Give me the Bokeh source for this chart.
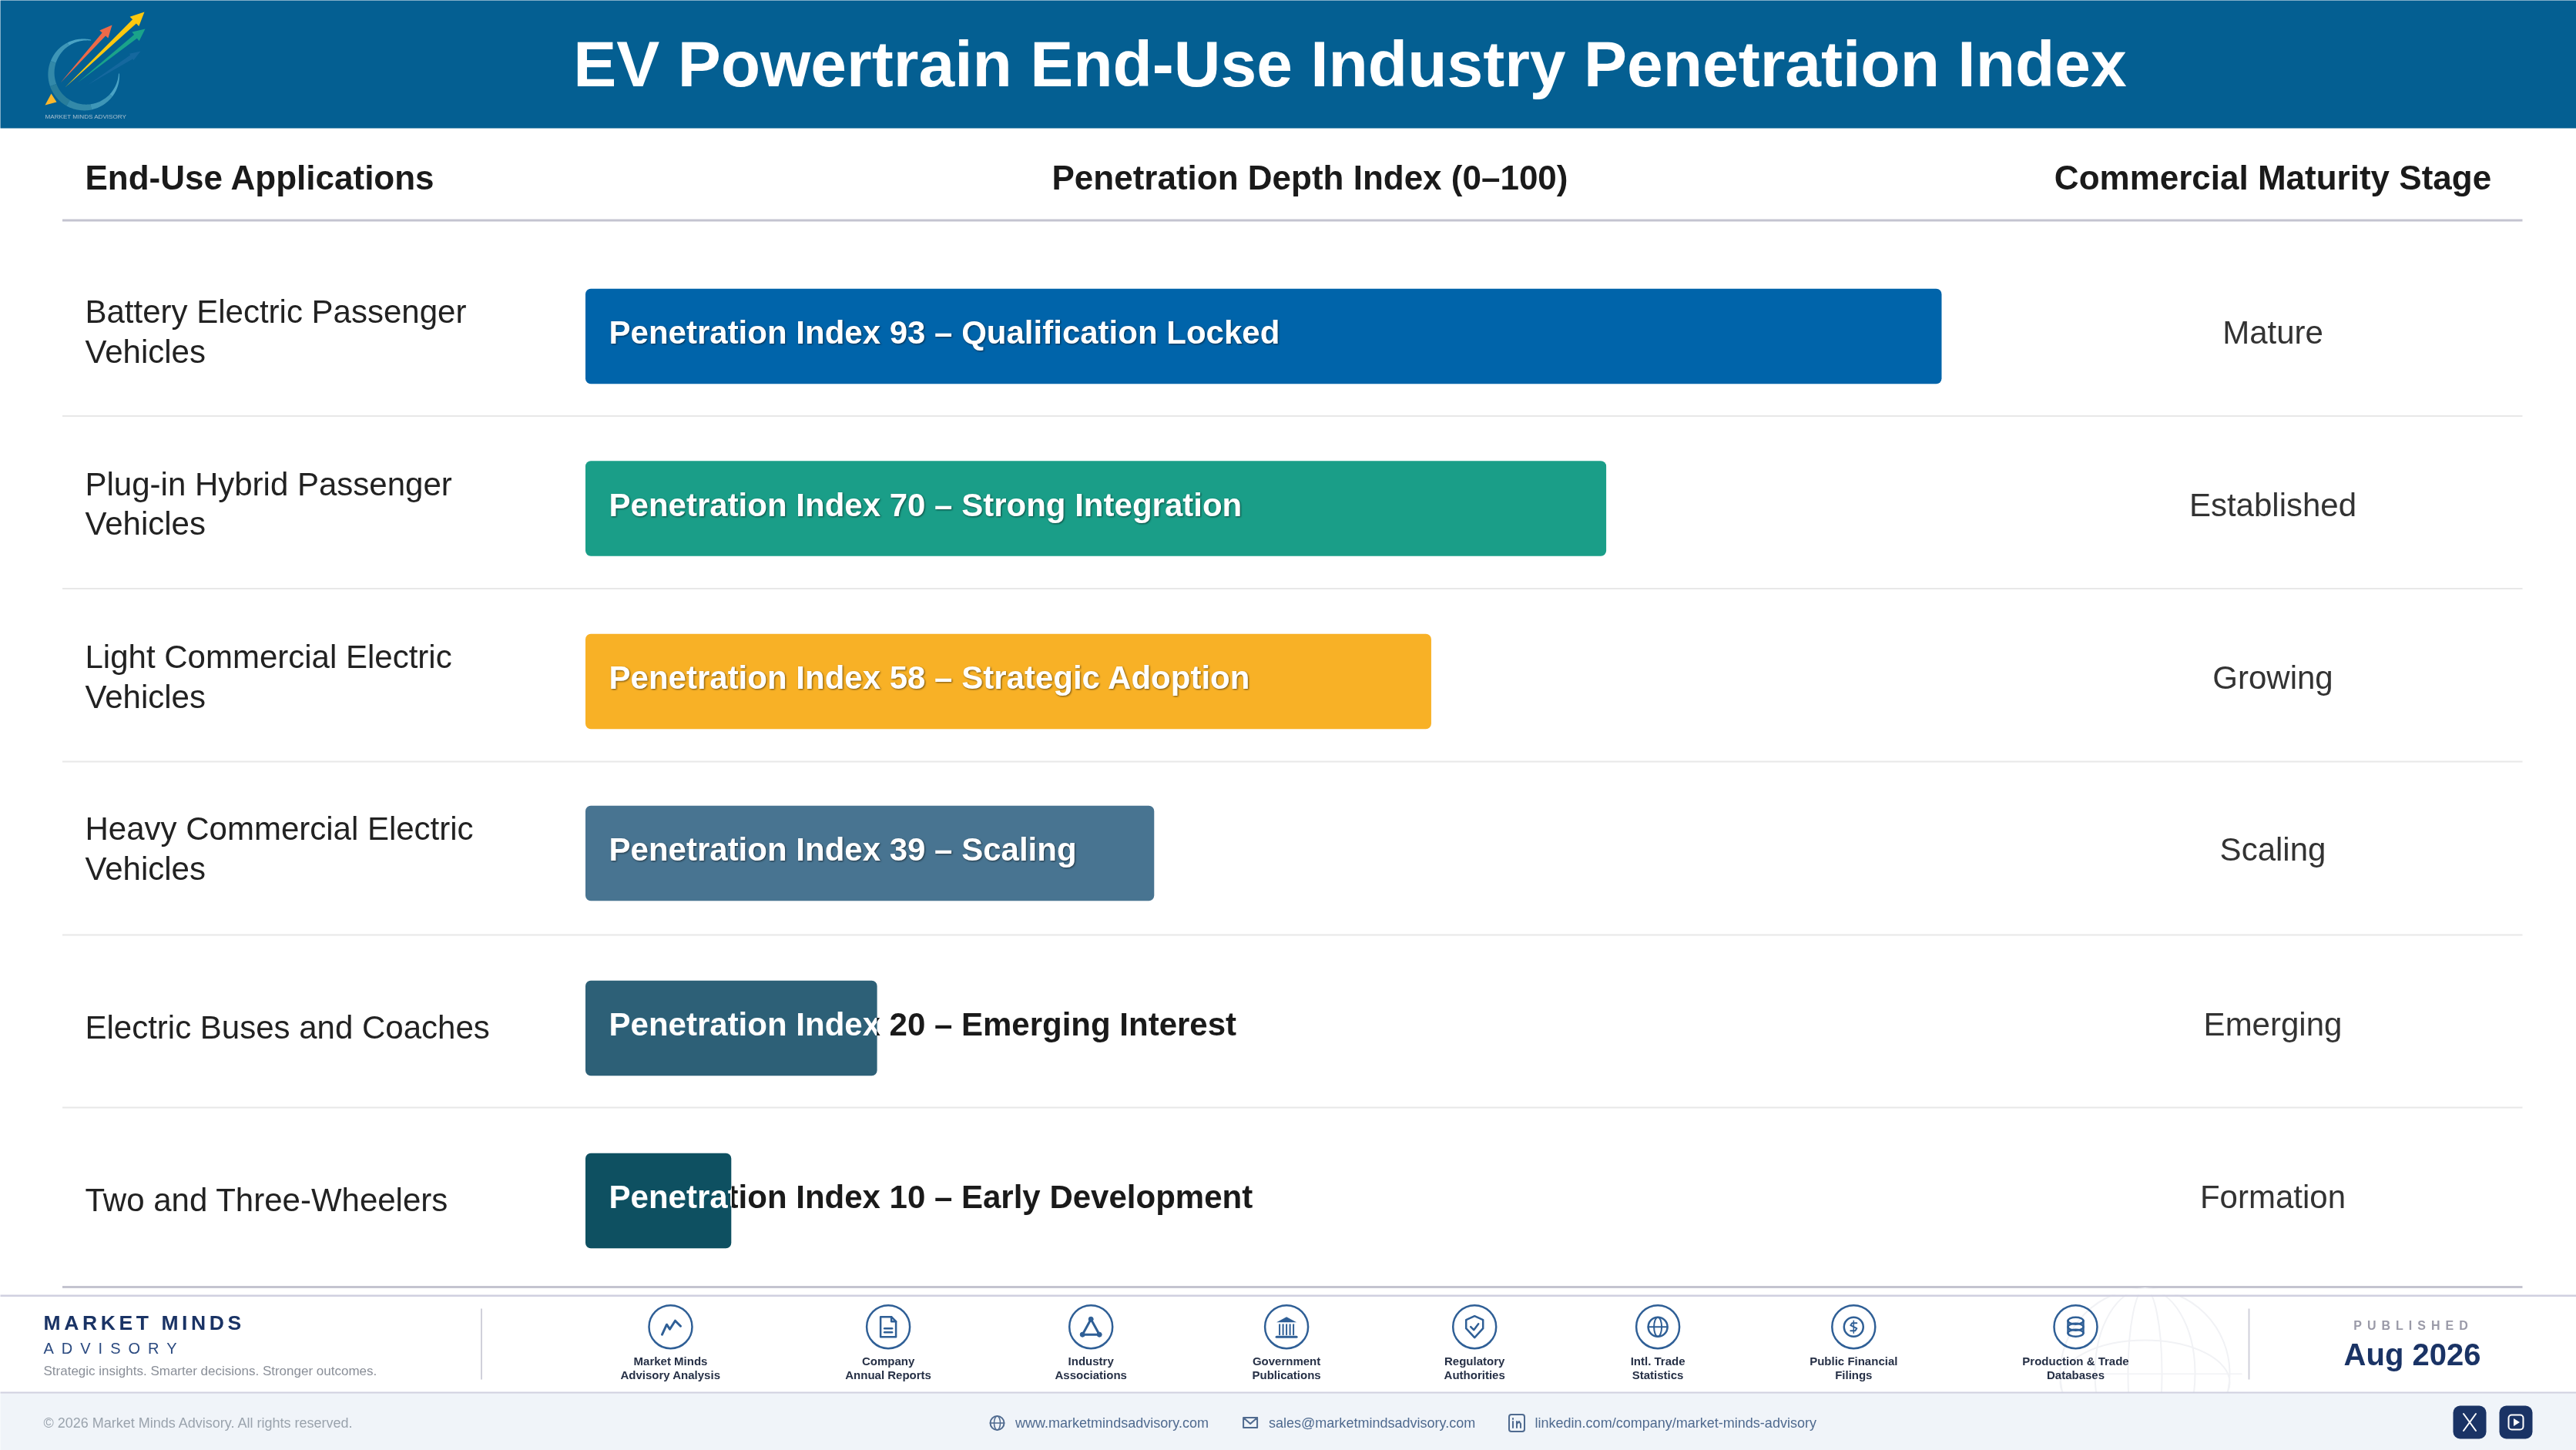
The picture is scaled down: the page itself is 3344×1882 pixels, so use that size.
import numpy as np
from bokeh.embed import file_html
from bokeh.resources import INLINE
from bokeh.plotting import figure
from bokeh.io import curdoc
from bokeh.models import Range1d, CustomJS
from bokeh.core.properties import value

# ---------- data ----------
APPLICATIONS = ["Battery Electric Passenger\nVehicles", "Plug-in Hybrid Passenger\nVehicles",
                "Light Commercial Electric\nVehicles", "Heavy Commercial Electric\nVehicles",
                "Electric Buses and Coaches", "Two and Three-Wheelers"]
INDEX_VALUES = [93, 70, 58, 39, 20, 10]
QUALIFIERS = ["Qualification Locked", "Strong Integration", "Strategic Adoption", "Scaling",
              "Emerging Interest", "Early Development"]
STAGES = ["Mature", "Established", "Growing", "Scaling", "Emerging", "Formation"]
SOURCES = [("Market Minds", "Advisory Analysis"), ("Company", "Annual Reports"), ("Industry", "Associations"),
           ("Government", "Publications"), ("Regulatory", "Authorities"), ("Intl. Trade", "Statistics"),
           ("Public Financial", "Filings"), ("Production & Trade", "Databases")]

# ---------- style and layout ----------
BAR_COLORS = ["#0064AA", "#1A9E88", "#F8B126", "#487491", "#2D6077", "#0E5061"]
W, H = 3344, 1882
BAR_X0 = 759.5
PX_PER_UNIT = 18.93
ROW_Y = [436, 659.5, 884, 1107, 1334, 1558]
SEP_Y = [539.5, 763.5, 988, 1213, 1437]
SRC_X = [870, 1152.6, 1415.7, 1669.6, 1913.7, 2151.6, 2405.8, 2694]
FONT = "Liberation Sans"
NAVY = "#1A3365"
ICON = "#2F5F96"

p = figure(width=W, height=H, output_backend="svg", toolbar_location=None, min_border=0,
           x_range=Range1d(-BAR_X0 / PX_PER_UNIT, (W - BAR_X0) / PX_PER_UNIT), y_range=Range1d(H, 0),
           extra_x_ranges={"px": Range1d(0, W)}, outline_line_color=None, background_fill_color="white",
           border_fill_color="white")
p.axis.visible = False
p.grid.visible = False
p.xaxis.visible = False
p.styles = {"position": "fixed", "left": "0", "top": "0"}


def T(x, y, s, size, color, bold=False, align="left", lh=1.09):
    return p.text(x=[x], y=[y], text=[s], text_font=value(FONT), text_font_size=value(f"{size}px"),
                  text_color=color, text_font_style="bold" if bold else "normal", text_align=align,
                  text_baseline="middle", text_line_height=lh, x_range_name="px")


def rect(x0, y0, x1, y1, color, radius=0, alpha=1.0):
    return p.quad(left=[x0], right=[x1], top=[y0], bottom=[y1], fill_color=color, fill_alpha=alpha,
                  line_color=None, border_radius=radius, x_range_name="px")


def L(pts, color=ICON, w=2.5, cx=0, cy=0):
    a = np.array(pts, dtype=float)
    return p.line(a[:, 0] + cx, a[:, 1] + cy, line_color=color, line_width=w, x_range_name="px",
                  line_cap="round", line_join="round")


def poly(pts, color, alpha=1.0, cx=0, cy=0):
    a = np.array(pts, dtype=float)
    return p.patch(a[:, 0] + cx, a[:, 1] + cy, fill_color=color, fill_alpha=alpha, line_color=None, x_range_name="px")


def ell(cx, cy, w, h, color=ICON, lw=2.5, fill=None):
    return p.ellipse(x=[cx], y=[cy], width=[w], height=[h], line_color=color, line_width=lw,
                     fill_color=fill, fill_alpha=1 if fill else 0, x_range_name="px")


# ---------- header ----------
rect(-6, -6, W + 6, 166, "#045F92")
T(1752, 82, "EV Powertrain End-Use Industry Penetration Index", 84, "white", True, "center")

# logo
cx, cy, R = 110, 95, 44
angles = np.linspace(-80, -360, 141)
for i in range(0, 140, 20):
    t = angles[i:i + 21]
    frac = (-t - 80) / 280
    th = 8 * np.sin(np.pi * frac) + 1
    rad = np.radians(t)
    outer = np.c_[cx + (R + th / 2) * np.cos(rad), cy + (R + th / 2) * np.sin(rad)]
    inner = np.c_[cx + (R - th / 2) * np.cos(rad), cy + (R - th / 2) * np.sin(rad)]
    mix = abs(frac.mean() - 0.5) * 2
    col = "#%02x%02x%02x" % (int(40 + 40 * mix), int(125 + 45 * mix), int(155 + 50 * mix))
    poly(np.r_[outer, inner[::-1]], col)


def arrow(tail, tip, hl, hw, sw, color, alpha=1.0):
    a, b = np.array(tail, float), np.array(tip, float)
    d = (b - a) / np.linalg.norm(b - a)
    n = np.array([-d[1], d[0]])
    neck = b - d * hl
    poly([a, neck + n * sw / 2, neck + n * hw / 2, b, neck - n * hw / 2, neck - n * sw / 2], color, alpha)


arrow((78, 107), (145, 32), 16, 15, 6, "#EE6A48")
arrow((84, 113), (187, 15), 18, 17, 7, "#FDC80E")
arrow((100, 107), (188, 37), 16, 15, 6, "#1AA38A")
arrow((113, 110), (182, 66), 14, 10, 6, "#2A74AE", 0.45)
poly([(58, 136), (73, 132), (66, 121)], "#FBB72C")
T(58, 151, "MARKET MINDS ADVISORY", 8.1, "#A9C0CF")

# ---------- table head ----------
T(110, 230, "End-Use Applications", 44, "#1A1A1A", True)
T(1700, 230, "Penetration Depth Index (0–100)", 44, "#1A1A1A", True, "center")
T(2950, 230, "Commercial Maturity Stage", 44, "#1A1A1A", True, "center")
rect(80.5, 284, 3274, 287, "#C4C4D0")
for y in SEP_Y:
    rect(80.5, y - 1, 3274, y + 1, "#E8E8E8")
rect(80.5, 1668.5, 3274, 1671.5, "#C4C4D0")

# ---------- rows ----------
for i, (app, v, q, st) in enumerate(zip(APPLICATIONS, INDEX_VALUES, QUALIFIERS, STAGES)):
    yc = ROW_Y[i]
    label = f"Penetration Index {v} – {q}"
    T(110, yc - (6 if "\n" in app else 1), app, 42, "#222222")
    T(2950, yc - 5, st, 42, "#333333", False, "center")
    if i >= 4:
        T(790, yc - 5, label, 42.01, "#1A1A1A", True)   # dark copy, hidden under the bar
    p.hbar(y=[yc], left=[0], right=[v], height=[123.5], fill_color=BAR_COLORS[i], line_color=None, border_radius=7)
    size = {4: 42.03, 5: 42.04}.get(i, 42.02)
    T(790, yc - 5, label, size, "white", True)

# ---------- footer ----------
# watermark globe, trimmed by the footer rules
GLOBE = "#F1F2F5"
for w_, h_ in [(220, 220), (130, 220), (44, 220)]:
    ell(2784, 1782, w_, h_, GLOBE, 2)
ell(2784, 1782 + 12, 220, 110, GLOBE, 2)
rect(2660, 1782, 2910, 1783.5, GLOBE)
rect(2600, 1672, 2950, 1680, "white")
rect(-6, 1807, W + 6, H + 6, "#F0F4F9")
rect(-6, 1680, W + 6, 1682.5, "#D0D0E0")
rect(-6, 1806, W + 6, 1808, "#D0D0E0")

T(56, 1716.5, "MARKET MINDS", 26.5, NAVY, True)
T(56, 1749, "ADVISORY", 20, "#2B4A80")
T(56, 1779, "Strategic insights. Smarter decisions. Stronger outcomes.", 17, "#8A8F98")
rect(623.5, 1698, 625.5, 1790, "#D0D0DA")
rect(2918, 1698, 2920, 1790, "#D0D0DA")

for (l1, l2), x in zip(SOURCES, SRC_X):
    ell(x, 1721.7, 56, 56)
    T(x, 1766, l1, 15, "#263046", True, "center")
    T(x, 1784, l2, 15, "#263046", True, "center")

CY = 1721.7
# trend
L([(-11, 10), (-5, -3), (-1, 3), (6, -8), (13, -1)], w=3, cx=SRC_X[0], cy=CY)
# document
L([(-10, -13), (4, -13), (10, -7), (10, 13), (-10, 13), (-10, -13)], cx=SRC_X[1], cy=CY)
L([(4, -13), (4, -7), (10, -7)], cx=SRC_X[1], cy=CY)
L([(-5, 2), (5, 2)], cx=SRC_X[1], cy=CY)
L([(-5, 7), (5, 7)], cx=SRC_X[1], cy=CY)
# network triangle
L([(0, -10), (-11, 10), (11, 10), (0, -10)], w=3, cx=SRC_X[2], cy=CY)
for dx, dy in [(0, -10), (-11, 10), (11, 10)]:
    ell(SRC_X[2] + dx, CY + dy, 6, 6, ICON, 1, ICON)
# government building
poly([(-13, -6), (0, -13), (13, -6)], ICON, cx=SRC_X[3], cy=CY)
for dx in (-9, -4.5, 0, 4.5, 9):
    L([(dx, -3), (dx, 10)], w=2, cx=SRC_X[3], cy=CY)
L([(-13, 13), (13, 13)], w=3, cx=SRC_X[3], cy=CY)
# shield
L([(0, -14), (11, -9), (11, 2), (0, 14), (-11, 2), (-11, -9), (0, -14)], cx=SRC_X[4], cy=CY)
L([(-5, 0), (-1, 4), (5, -4)], cx=SRC_X[4], cy=CY)
# globe
ell(SRC_X[5], CY, 25, 25, ICON, 2.5)
ell(SRC_X[5], CY, 10, 25, ICON, 2)
L([(-12.5, 0), (12.5, 0)], w=2, cx=SRC_X[5], cy=CY)
# coin
ell(SRC_X[6], CY, 25, 25, ICON, 2.5)
L([(4, -5), (-2, -5), (-4, -2), (4, 2), (2, 5), (-4, 5)], w=2, cx=SRC_X[6], cy=CY)
L([(0, -8), (0, 8)], w=1.5, cx=SRC_X[6], cy=CY)
# database
for dy in (-8, 0, 8):
    ell(SRC_X[7], CY + dy, 20, 9, ICON, 2.5)
L([(-10, -8), (-10, 8)], cx=SRC_X[7], cy=CY)
L([(10, -8), (10, 8)], cx=SRC_X[7], cy=CY)

# published block
T(3101, 1720, "PUBLISHED", 16, "#9A9AA8", True, "center")
T(3131, 1757, "Aug 2026", 40, NAVY, True, "center")

# bottom strip
T(56, 1846, "© 2026 Market Minds Advisory. All rights reserved.", 18.01, "#9AA3AD")
LINK = "#4F6A8F"
T(1317.5, 1846, "www.marketmindsadvisory.com", 18.02, LINK)
T(1646.5, 1846, "sales@marketmindsadvisory.com", 18.02, LINK)
T(1992, 1846, "linkedin.com/company/market-minds-advisory", 18.02, LINK)
ell(1294, 1846.5, 18, 18, LINK, 2)
ell(1294, 1846.5, 8, 18, LINK, 1.5)
L([(-9, 0), (9, 0)], LINK, 1.5, 1294, 1846.5)
L([(-9, -7), (9, -7), (9, 6), (-9, 6), (-9, -7), (0, 1), (9, -7)], LINK, 2, 1622.6, 1846.5)
p.quad(left=[1958.5], right=[1978.5], top=[1835.5], bottom=[1857.5], fill_alpha=0, line_color=LINK, line_width=2,
       border_radius=3, x_range_name="px")
L([(-5, -2), (-5, 6)], LINK, 2, 1968.5, 1846.5)
L([(-5, -6), (-5, -5)], LINK, 2, 1968.5, 1846.5)
L([(0, 6), (0, -2)], LINK, 2, 1968.5, 1846.5)
L([(0, 1), (3, -2), (5, 1), (5, 6)], LINK, 2, 1968.5, 1846.5)

rect(3184, 1824, 3227, 1867, NAVY, 9)
rect(3244, 1824, 3287, 1867, NAVY, 9)
L([(-8, -11), (8, 11)], "white", 2, 3205.5, 1845.5)
L([(8, -11), (-8, 11)], "white", 2, 3205.5, 1845.5)
p.quad(left=[3256], right=[3275], top=[1836], bottom=[1855], fill_alpha=0, line_color="white", line_width=2,
       border_radius=4, x_range_name="px")
poly([(-3, -5), (5, 0), (-3, 5)], "white", cx=3265.5, cy=1845.5)

# CSS that Bokeh has no property for: letter spacing, clipping text at a bar's edge, text shadow
CSS = """
text[font-size="26.5px"]{letter-spacing:4.6px}
text[font-size="20px"]{letter-spacing:10px}
text[font-size="16px"]{letter-spacing:7px}
text[font-size="42.02px"]{filter:drop-shadow(1px 1px 1px rgba(0,0,0,.55))}
text[font-size="42.03px"]{clip-path:polygon(0 -40px,347.5px -40px,347.5px 100px,0 100px)}
text[font-size="42.04px"]{clip-path:polygon(0 -40px,159.5px -40px,159.5px 100px,0 100px)}
"""
JS = """
const css = args_css;
function walk(root){
  root.querySelectorAll('*').forEach(el => {
    if (el.shadowRoot) {
      if (!el.shadowRoot.querySelector('style[data-x]')) {
        const s = document.createElement('style'); s.setAttribute('data-x','1'); s.textContent = css;
        el.shadowRoot.appendChild(s);
      }
      walk(el.shadowRoot);
    }
  });
}
walk(document); setTimeout(()=>walk(document),100); setTimeout(()=>walk(document),500);
""".replace("args_css", repr(CSS))
doc = curdoc()
doc.add_root(p)
doc.js_on_event("document_ready", CustomJS(code=JS))

open("out.html", "w").write(file_html(p, INLINE))
